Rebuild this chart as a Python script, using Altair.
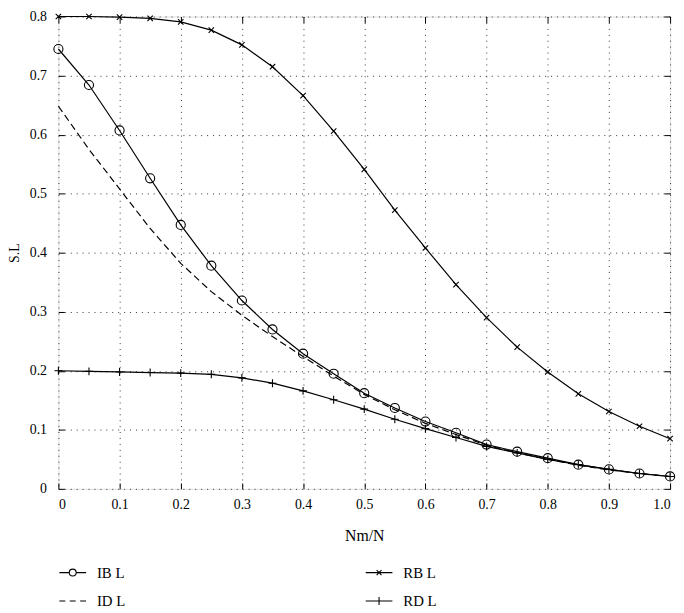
import altair as alt
import pandas as pd

# ---- data ----
x_vals = [0.0, 0.05, 0.1, 0.15, 0.2, 0.25, 0.3, 0.35, 0.4, 0.45, 0.5,
          0.55, 0.6, 0.65, 0.7, 0.75, 0.8, 0.85, 0.9, 0.95, 1.0]
ib_l = [0.745, 0.684, 0.607, 0.526, 0.447, 0.378, 0.319, 0.270, 0.229, 0.195, 0.162,
        0.137, 0.114, 0.095, 0.075, 0.063, 0.052, 0.041, 0.033, 0.026, 0.021]
id_l = [0.648, 0.575, 0.508, 0.441, 0.382, 0.334, 0.294, 0.258, 0.224, 0.191, 0.160,
        0.134, 0.111, 0.092, 0.074, 0.061, 0.050, 0.040, 0.032, 0.026, 0.021]
rb_l = [0.800, 0.800, 0.799, 0.797, 0.791, 0.777, 0.752, 0.715, 0.666, 0.606, 0.541,
        0.472, 0.408, 0.346, 0.290, 0.240, 0.198, 0.161, 0.131, 0.106, 0.085]
rd_l = [0.200, 0.199, 0.198, 0.197, 0.196, 0.194, 0.188, 0.179, 0.166, 0.151, 0.135,
        0.118, 0.102, 0.087, 0.072, 0.061, 0.050, 0.041, 0.033, 0.026, 0.021]

# legend is filled column by column: column 1 = IB L, ID L; column 2 = RB L, RD L
series_names = ["IB L", "ID L", "RB L", "RD L"]
legend_keys = ["1IB L", "2ID L", "3RB L", "4RD L"]
x_ticks = [0, 0.1, 0.2, 0.3, 0.4, 0.5, 0.6, 0.7, 0.8, 0.9, 1.0]
y_ticks = [0, 0.1, 0.2, 0.3, 0.4, 0.5, 0.6, 0.7, 0.8]

key_of = dict(zip(series_names, legend_keys))
rows = []
for name, vals in [("IB L", ib_l), ("ID L", id_l), ("RB L", rb_l), ("RD L", rd_l)]:
    for xv, yv in zip(x_vals, vals):
        rows.append({"x": xv, "y": yv, "series": name, "key": key_of[name]})
df = pd.DataFrame(rows)

FONT = "Liberation Serif"
fmt = "datum.value == 0 ? '0' : format(datum.value, '.1f')"

xs = alt.Scale(domain=[0, 1.0], nice=False, zero=False)
ys = alt.Scale(domain=[0, 0.8], nice=False, zero=False)

x_bottom = alt.Axis(values=x_ticks, labelExpr=fmt, title="Nm/N", grid=True,
                    gridDash=[1, 5], gridColor="#333", gridWidth=1,
                    domain=False, tickSize={"expr": "-6"}, tickColor="black",
                    labelPadding=15, labelFont=FONT, labelFontSize=14,
                    labelColor="black", titleFont=FONT, titleFontSize=16,
                    titleFontWeight="normal", titleColor="black", titlePadding=16)
y_left = alt.Axis(values=y_ticks, labelExpr=fmt, title="S.L", grid=True,
                  gridDash=[1, 5], gridColor="#333", gridWidth=1,
                  domain=False, tickSize={"expr": "-6"}, tickColor="black",
                  labelPadding=18, labelFont=FONT, labelFontSize=14,
                  labelColor="black", titleFont=FONT, titleFontSize=14,
                  titleFontWeight="normal", titleColor="black", titlePadding=8)
x_top = alt.Axis(values=x_ticks, orient="top", labels=False, title=None, grid=False,
                 domain=False, tickSize={"expr": "-6"}, tickColor="black")
y_right = alt.Axis(values=y_ticks, orient="right", labels=False, title=None, grid=False,
                   domain=False, tickSize={"expr": "-6"}, tickColor="black")

base = alt.Chart(df)

solid_lines = base.transform_filter(alt.datum.series != "ID L").mark_line(
    color="black", strokeWidth=1.2
).encode(
    x=alt.X("x:Q", scale=xs, axis=x_bottom),
    y=alt.Y("y:Q", scale=ys, axis=y_left),
    detail="series:N",
)

dashed_line = base.transform_filter(alt.datum.series == "ID L").mark_line(
    color="black", strokeWidth=1.2, strokeDash=[7, 4]
).encode(x=alt.X("x:Q", scale=xs, axis=None), y=alt.Y("y:Q", scale=ys, axis=None))

X_PATH = "M-1,-1L1,1M-1,1L1,-1"
PLUS_PATH = "M-1,0L1,0M0,-1L0,1"

circles = base.transform_filter(alt.datum.series == "IB L").mark_point(
    shape="circle", filled=False, color="black", size=85, strokeWidth=1.1, opacity=1
).encode(x=alt.X("x:Q", scale=xs, axis=None), y=alt.Y("y:Q", scale=ys, axis=None))

crosses = base.transform_filter(alt.datum.series == "RB L").mark_point(
    shape=X_PATH, filled=False, color="black", size=30, strokeWidth=1.1, opacity=1
).encode(x=alt.X("x:Q", scale=xs, axis=None), y=alt.Y("y:Q", scale=ys, axis=None))

pluses = base.transform_filter(alt.datum.series == "RD L").mark_point(
    shape=PLUS_PATH, filled=False, color="black", size=64, strokeWidth=1.1, opacity=1
).encode(x=alt.X("x:Q", scale=xs, axis=None), y=alt.Y("y:Q", scale=ys, axis=None))

legend_paths = [
    "M-1,0L-0.26,0M0.26,0L1,0M0.26,0A0.26,0.26 0 1,1 -0.26,0A0.26,0.26 0 1,1 0.26,0",
    "M-1,0L-0.556,0M-0.222,0L0.222,0M0.556,0L1,0",
    "M-1,0L1,0M-0.18,-0.18L0.18,0.18M-0.18,0.18L0.18,-0.18",
    "M-1,0L1,0M0,-0.3L0,0.3",
]

legend_layer = base.mark_point(size=0, filled=False, color="white", strokeWidth=0).encode(
    x=alt.X("x:Q", scale=xs, axis=None),
    y=alt.Y("y:Q", scale=ys, axis=None),
    shape=alt.Shape("key:N",
                    scale=alt.Scale(domain=legend_keys, range=legend_paths),
                    legend=alt.Legend(title=None, orient="none", legendX=0, legendY=548,
                                      columns=2, columnPadding=240, rowPadding=6,
                                      labelExpr="substring(datum.label, 1)",
                                      symbolSize=729, symbolOpacity=1,
                                      symbolStrokeColor="black", symbolFillColor="transparent",
                                      symbolStrokeWidth=1.1, labelFont=FONT,
                                      labelFontSize=15, labelColor="black",
                                      labelOffset=10, padding=0)),
)

mirror = base.mark_point(opacity=0).encode(
    x=alt.X("x:Q", scale=xs, axis=x_top),
    y=alt.Y("y:Q", scale=ys, axis=y_right),
)

chart = alt.layer(solid_lines, dashed_line, circles, crosses, pluses, legend_layer, mirror).resolve_axis(
    x="independent", y="independent"
).properties(
    width=619, height=478,
    autosize=alt.AutoSizeParams(type="none"),
    padding={"left": 51, "top": 5, "right": 6, "bottom": 122},
).configure_view(stroke="black", strokeWidth=1.4).configure(background="white", font=FONT)

chart.save("out.html", embed_options={"renderer": "svg", "actions": False})
